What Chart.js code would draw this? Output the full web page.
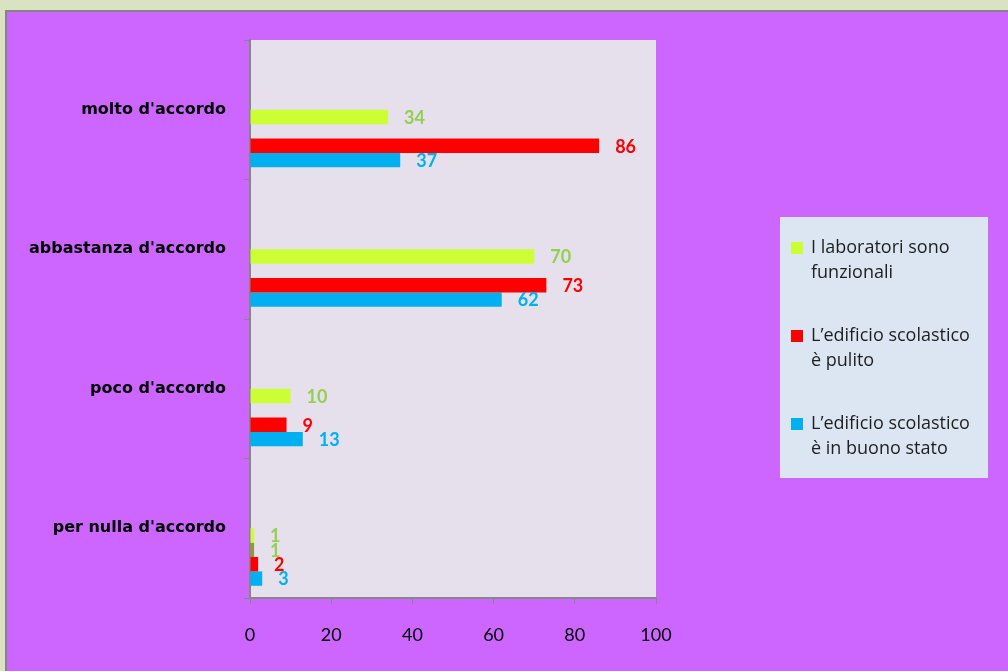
<!DOCTYPE html>
<html>
<head>
<meta charset="utf-8">
<script src="https://cdn.jsdelivr.net/npm/chart.js@4/dist/chart.umd.min.js"></script>
<style>
  body { margin: 0; background: #DAE3C1; width: 1008px; height: 671px; overflow: hidden; }
  #sfondo {
    position: absolute; left: 5px; top: 10px; right: 0; bottom: 0;
    background: #CC66FF; border-left: 2px solid #858585; border-top: 2px solid #858585;
  }
  #grafico { position: absolute; left: 0; top: 0; }
</style>
</head>
<body>
<div id="sfondo"></div>
<canvas id="grafico" width="1008" height="671"></canvas>
<script>
const categorie = ["molto d'accordo", "abbastanza d'accordo", "poco d'accordo", "per nulla d'accordo"]
const laboratori = [34, 70, 10, 1]
const extra = [null, null, null, 1]
const pulito = [86, 73, 9, 2]
const buonoStato = [37, 62, 13, 3]
const legendaTesti = [["I laboratori sono", "funzionali"], ["L\u2019edificio scolastico", "\u00e8 pulito"], ["L\u2019edificio scolastico", "\u00e8 in buono stato"]]

const fontNumeri = '"Comic Sans MS", "Lato", sans-serif'

// sfondo dell'area del grafico
const areaSfondo = {
  id: "areaSfondo",
  beforeDraw(chart) {
    const { ctx, chartArea: a } = chart
    ctx.save()
    ctx.fillStyle = "#E5E0EC"
    ctx.fillRect(a.left, a.top, a.right - a.left, a.bottom - a.top)
    ctx.restore()
  }
}

// numeri accanto alle barre
const etichette = {
  id: "etichette",
  afterDatasetsDraw(chart) {
    const ctx = chart.ctx
    ctx.save()
    ctx.font = "bold 18px " + fontNumeri
    ctx.textAlign = "left"
    ctx.textBaseline = "middle"
    chart.data.datasets.forEach((ds, i) => {
      if (!ds.coloreNumero) return
      chart.getDatasetMeta(i).data.forEach((bar, j) => {
        const v = ds.data[j]
        if (v == null) return
        ctx.fillStyle = ds.coloreNumero
        ctx.fillText(String(v), bar.x + 16, bar.y + 1)
      })
    })
    ctx.restore()
  }
}

// legenda nel riquadro azzurro
const legenda = {
  id: "legenda",
  afterDraw(chart) {
    const ctx = chart.ctx
    ctx.save()
    ctx.fillStyle = "#DCE6F2"
    ctx.fillRect(780, 217, 208, 261)
    ctx.font = "18px 'Open Sans', sans-serif"
    ctx.textBaseline = "middle"
    const serie = chart.data.datasets.filter(d => d.legenda)
    serie.forEach((ds, i) => {
      const y = 248 + i * 88
      ctx.fillStyle = ds.backgroundColor
      ctx.fillRect(791, y - 6, 12, 12)
      ctx.fillStyle = "#1E1E1E"
      legendaTesti[i].forEach((riga, k) => {
        ctx.fillText(riga, 811, y + k * 25)
      })
    })
    ctx.restore()
  }
}

const vuoto = () => ({ label: "", data: [], backgroundColor: "transparent" })

new Chart(document.getElementById("grafico"), {
  type: "bar",
  data: {
    labels: categorie,
    datasets: [
      vuoto(), vuoto(), vuoto(), vuoto(),
      { label: "I laboratori sono funzionali", data: laboratori, backgroundColor: "#CCFF33", coloreNumero: "#92D050", legenda: true },
      { label: "", data: extra, backgroundColor: "#8E9A3E", coloreNumero: "#92D050" },
      { label: "L\u2019edificio scolastico \u00e8 pulito", data: pulito, backgroundColor: "#FF0000", coloreNumero: "#FF0000", legenda: true },
      { label: "L\u2019edificio scolastico \u00e8 in buono stato", data: buonoStato, backgroundColor: "#00B0F0", coloreNumero: "#00B0F0", legenda: true }
    ]
  },
  options: {
    indexAxis: "y",
    responsive: false,
    animation: false,
    layout: { padding: { top: 40, right: 352, left: 0, bottom: 0 } },
    datasets: { bar: { categoryPercentage: 0.825, barPercentage: 1 } },
    plugins: { legend: { display: false }, tooltip: { enabled: false } },
    scales: {
      x: {
        min: 0, max: 100,
        ticks: { stepSize: 20, color: "#000", padding: 20, font: { family: fontNumeri, size: 18 } },
        grid: { drawOnChartArea: false, drawTicks: true, tickLength: 6, color: "#868686" },
        border: { color: "#868686", width: 2 },
        afterFit(s) { s.height = 73 }
      },
      y: {
        ticks: { color: "#000", padding: 18, font: { family: "'DejaVu Sans', Verdana, sans-serif", size: 16, weight: "bold" } },
        grid: { drawOnChartArea: false, drawTicks: true, tickLength: 6, color: "#868686", offset: true },
        border: { color: "#868686", width: 2 },
        afterFit(s) { s.width = 250 }
      }
    }
  },
  plugins: [areaSfondo, etichette, legenda]
})
</script>
</body>
</html>
